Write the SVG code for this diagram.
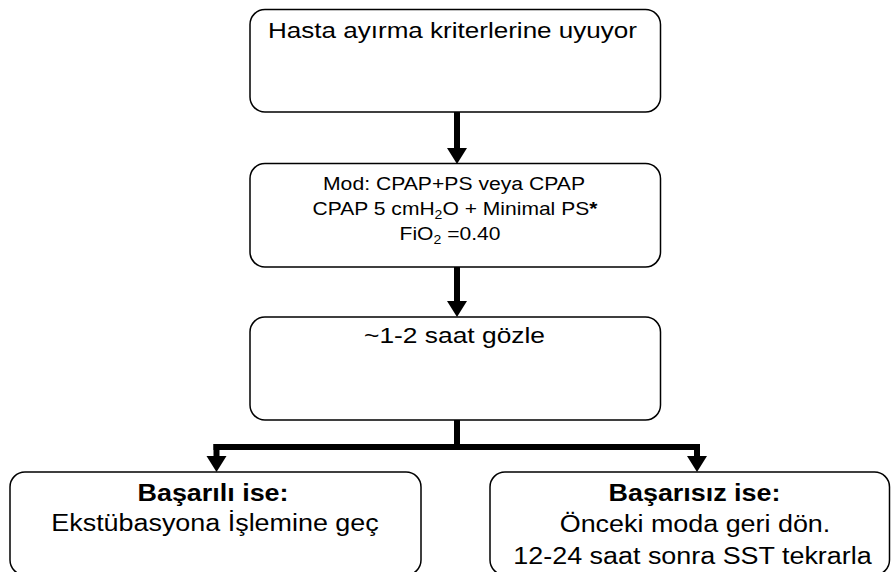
<svg xmlns="http://www.w3.org/2000/svg" width="891" height="572" viewBox="0 0 891 572">
<style>
.box{fill:#fff;stroke:#000;stroke-width:1.5}
.t{font-family:"Liberation Sans",Arial,sans-serif;fill:#000;text-anchor:middle}
.b{font-size:23px}
.c{stroke:#000;stroke-width:6;fill:none}
.ah{fill:#000}
</style>
<rect width="891" height="572" fill="#fff"/>
<g id="connectors">
<line class="c" x1="457" y1="112" x2="457" y2="150"/>
<polygon class="ah" points="447,148 467,148 457,164"/>
<line class="c" x1="457" y1="267" x2="457" y2="303"/>
<polygon class="ah" points="447,301 467,301 457,317"/>
<line class="c" x1="457" y1="420" x2="457" y2="447"/>
<line class="c" x1="213.5" y1="447" x2="700" y2="447"/>
<line class="c" x1="216.5" y1="444" x2="216.5" y2="458"/>
<polygon class="ah" points="206.5,456 226.5,456 216.5,472"/>
<line class="c" x1="697" y1="444" x2="697" y2="458"/>
<polygon class="ah" points="687,456 707,456 697,472"/>
</g>
<g id="n1">
<rect class="box" x="250" y="9.5" width="410.5" height="102.5" rx="15"/>
<text class="t" x="452.5" y="38" font-size="22" textLength="369" lengthAdjust="spacingAndGlyphs">Hasta ayırma kriterlerine uyuyor</text>
</g>
<g id="n2">
<rect class="box" x="250" y="163.5" width="410.5" height="103.5" rx="15"/>
<text class="t" x="454" y="190" font-size="18" textLength="262" lengthAdjust="spacingAndGlyphs">Mod: CPAP+PS veya CPAP</text>
<g transform="translate(455,215) scale(1.17,1)"><text class="t" x="0" y="0" font-size="18">CPAP 5 cmH<tspan font-size="12" dy="4">2</tspan><tspan dy="-4">O + Minimal PS</tspan><tspan font-weight="bold">*</tspan></text></g>
<g transform="translate(450,240) scale(1.17,1)"><text class="t" x="0" y="0" font-size="18">FiO<tspan font-size="12" dy="4">2</tspan><tspan dy="-4"> =0.40</tspan></text></g>
</g>
<g id="n3">
<rect class="box" x="250" y="317" width="410.5" height="103" rx="15"/>
<text class="t" x="454.5" y="343" font-size="22" textLength="181" lengthAdjust="spacingAndGlyphs">~1-2 saat gözle</text>
</g>
<g id="n4">
<rect class="box" x="10" y="472" width="411" height="103" rx="15"/>
<g transform="translate(213,501) scale(1.17,1)"><text class="t b" x="0" y="0" font-weight="bold">Başarılı ise:</text></g>
<g transform="translate(215,531) scale(1.17,1)"><text class="t b" x="0" y="0">Ekstübasyona İşlemine geç</text></g>
</g>
<g id="n5">
<rect class="box" x="490" y="472" width="399.5" height="103" rx="15"/>
<g transform="translate(694.5,501) scale(1.17,1)"><text class="t b" x="0" y="0" font-weight="bold">Başarısız ise:</text></g>
<g transform="translate(695,532) scale(1.17,1)"><text class="t b" x="0" y="0">Önceki moda geri dön.</text></g>
<g transform="translate(692.5,564) scale(1.17,1)"><text class="t b" x="0" y="0">12-24 saat sonra SST tekrarla</text></g>
</g>
</svg>
